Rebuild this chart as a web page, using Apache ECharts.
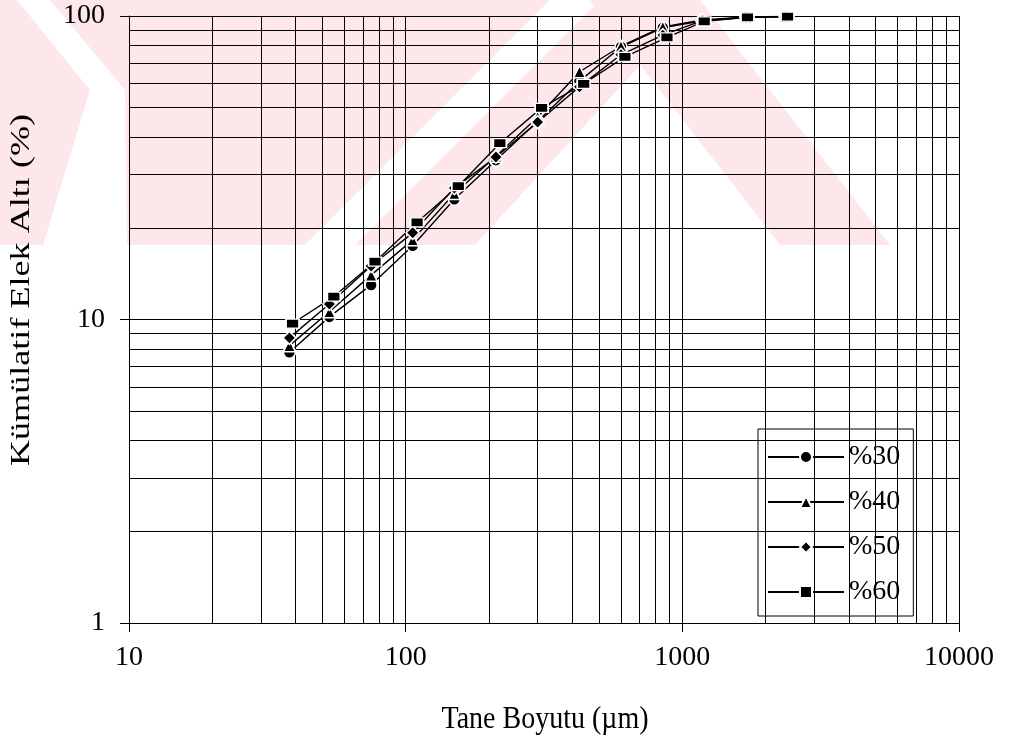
<!DOCTYPE html>
<html>
<head>
<meta charset="utf-8">
<script src="https://cdn.jsdelivr.net/npm/echarts@6/dist/echarts.min.js"></script>
<style>
html, body { margin: 0; padding: 0; background: #fff; }
#chart { width: 1009px; height: 746px; }
</style>
</head>
<body>
<div id="chart"></div>
<script>
// sieve sizes (µm) and cumulative passing (%)
const sieveSizes = [38, 53, 75, 106, 150, 212, 300, 425, 600, 850, 1180, 1700, 2360];
const sieveSizes60 = [39, 55, 77.5, 110, 155, 219, 310, 440, 620, 880, 1200, 1720, 2400];
const pass30 = [7.8, 10.2, 13.0, 17.5, 24.9, 33.5, 45.0, 61.0, 79.0, 91.5, 96.5, 99.0, 99.5];
const pass40 = [8.2, 10.6, 14.0, 18.3, 26.0, 34.5, 46.5, 65.5, 79.5, 92.0, 97.0, 99.3, 99.6];
const pass50 = [8.7, 11.25, 15.0, 19.3, 27.1, 34.3, 44.7, 58.5, 74.5, 86.5, 96.5, 99.0, 99.5];
const pass60 = [9.7, 11.9, 15.5, 20.9, 27.5, 38.1, 49.8, 59.8, 73.3, 85.0, 96.0, 99.0, 99.5];
const seriesNames = ['%30', '%40', '%50', '%60'];

// grid lines between decades
const xMinor = [20, 30, 40, 50, 60, 70, 80, 90, 200, 300, 400, 500, 600, 700, 800, 900, 2000, 3000, 4000, 5000, 6000, 7000, 8000, 9000];
const yMinor = [2, 3, 4, 5, 6, 7, 8, 9, 20, 30, 40, 50, 60, 70, 80, 90];

const serif = '"Liberation Serif", "DejaVu Serif", serif';
const pink = '#fde7ea';

var myChart = echarts.init(document.getElementById('chart'));

function pairs(xs, ys) {
	return xs.map((x, i) => [x, ys[i]]);
}

function makeSeries(name, xs, ys, symbol, size) {
	return {
		name: name,
		type: 'line',
		data: pairs(xs, ys),
		symbol: symbol,
		symbolSize: size,
		showAllSymbol: true,
		lineStyle: { color: '#000', width: 1.4 },
		itemStyle: { color: '#000', borderColor: '#fff', borderWidth: 1.5 },
		emphasis: { disabled: true },
		z: 5,
	};
}

function band(points) {
	return { type: 'polygon', z: -1, silent: true, shape: { points: points }, style: { fill: pink } };
}

let option = {
	animation: false,
	backgroundColor: '#fff',
	graphic: [
		// background watermark
		band([[0, 0], [17, 0], [90, 90], [43, 245], [0, 245]]),
		band([[50, 0], [550, 0], [305, 245], [127, 245], [125, 90]]),
		band([[600, 0], [700, 0], [475, 245], [355, 245]]),
		band([[590, 0], [700, 0], [890, 245], [780, 245]]),
		// axis titles
		{
			type: 'text', x: 545, y: 720, scaleY: 1.12, silent: true,
			style: { text: 'Tane Boyutu (µm)', font: '28px ' + serif, fill: '#000', align: 'center', verticalAlign: 'middle' },
		},
		{
			type: 'text', x: 22, y: 290, rotation: Math.PI / 2, scaleX: 1.29, silent: true,
			style: { text: 'Kümülatif Elek Altı (%)', font: '28px ' + serif, fill: '#000', align: 'center', verticalAlign: 'middle' },
		},
	],
	grid: { left: 129, top: 16, width: 830, height: 607, containLabel: false },
	legend: {
		orient: 'vertical',
		left: 758,
		top: 429,
		padding: [14, 13, 10, 9],
		itemWidth: 76,
		itemHeight: 15,
		itemGap: 17,
		align: 'left',
		backgroundColor: '#fff',
		borderColor: '#000',
		borderWidth: 1,
		borderRadius: 0,
		data: seriesNames,
		textStyle: { fontFamily: serif, fontSize: 28, color: '#000' },
	},
	xAxis: {
		type: 'log',
		logBase: 10,
		min: 10,
		max: 10000,
		axisLine: { lineStyle: { color: '#000', width: 1 } },
		axisTick: { show: true, length: 9, lineStyle: { color: '#000' } },
		axisLabel: { fontFamily: serif, fontSize: 28, color: '#000', margin: 21, formatter: (v) => String(Math.round(v)) },
		splitLine: { show: true, lineStyle: { color: '#000', width: 1 } },
	},
	yAxis: {
		type: 'log',
		logBase: 10,
		min: 1,
		max: 100,
		axisLine: { show: true, lineStyle: { color: '#000', width: 1 } },
		axisTick: { show: true, length: 9, lineStyle: { color: '#000' } },
		axisLabel: { fontFamily: serif, fontSize: 28, color: '#000', margin: 24, formatter: (v) => String(Math.round(v)) },
		splitLine: { show: true, lineStyle: { color: '#000', width: 1 } },
	},
	series: [
		{
			name: '_grid',
			type: 'line',
			data: [],
			silent: true,
			markLine: {
				silent: true,
				animation: false,
				symbol: ['none', 'none'],
				label: { show: false },
				emphasis: { disabled: true },
				lineStyle: { color: '#000', width: 1, type: 'solid' },
				data: xMinor.map((v) => ({ xAxis: v })).concat(yMinor.map((v) => ({ yAxis: v }))),
			},
		},
		makeSeries(seriesNames[0], sieveSizes, pass30, 'circle', 12),
		makeSeries(seriesNames[1], sieveSizes, pass40, 'triangle', 12),
		makeSeries(seriesNames[2], sieveSizes, pass50, 'diamond', 13),
		makeSeries(seriesNames[3], sieveSizes60, pass60, 'rect', [13, 9]),
	],
};
myChart.setOption(option);
</script>
</body>
</html>
